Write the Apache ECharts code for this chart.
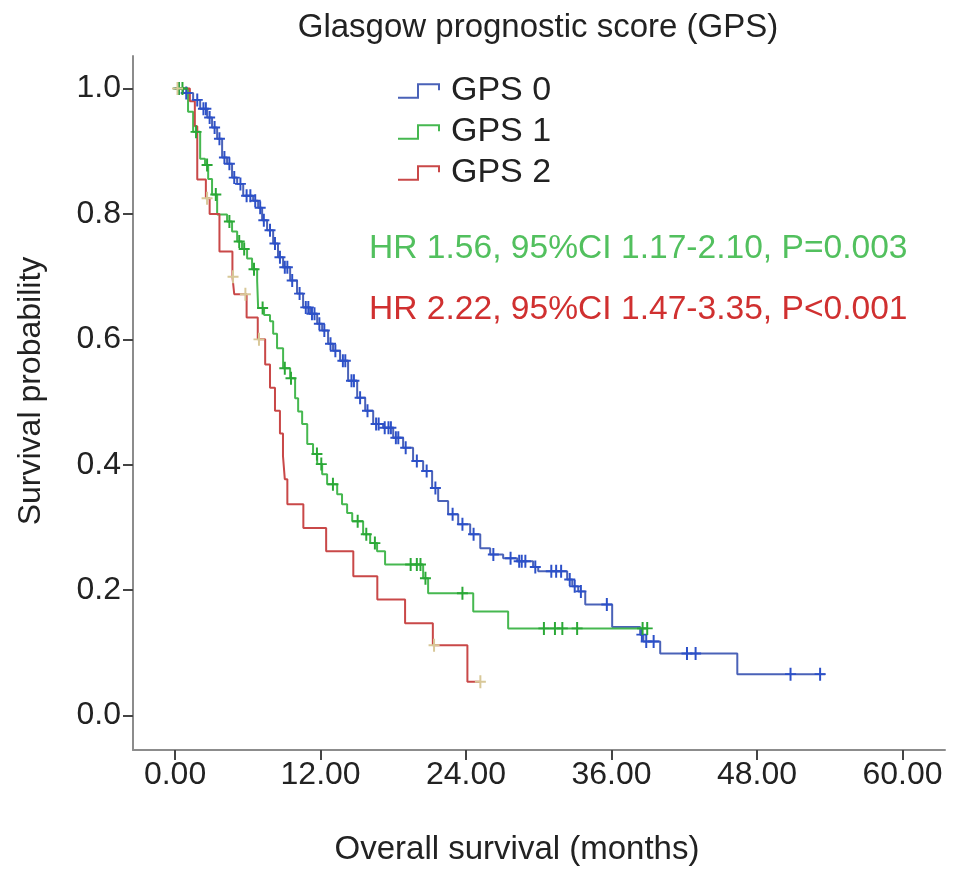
<!DOCTYPE html>
<html>
<head>
<meta charset="utf-8">
<script src="https://cdn.jsdelivr.net/npm/echarts@6/dist/echarts.min.js"></script>
<style>html,body{margin:0;padding:0;background:#fff}#chart{width:969px;height:876px}</style>
</head>
<body>
<div id="chart"></div>
<script>
// Tick labels
const xTicks = [0, 12, 24, 36, 48, 60];
const yTicks = [0, 0.2, 0.4, 0.6, 0.8, 1.0];

// GPS 0 (Kaplan-Meier steps: event time in months, survival after the event)
const gps0Time = [0,0.66,1.49,2.07,2.65,3.05,3.47,3.88,4.29,4.70,5.12,5.62,6.44,6.85,7.18,7.59,8.09,8.49,8.91,9.49,10.06,10.56,11.14,11.72,12.13,12.62,13.03,13.61,14.27,15.02,15.68,16.34,17.16,17.99,18.81,19.63,20.46,21.20,21.70,22.52,23.35,24.34,25.17,25.99,27.06,28.22,29.53,29.95,32.34,32.76,33.25,33.83,36.05,38.36,38.62,40.01,46.37,53.63];
const gps0Surv = [1,0.993,0.982,0.968,0.954,0.938,0.920,0.890,0.880,0.858,0.848,0.829,0.821,0.810,0.790,0.774,0.753,0.731,0.715,0.694,0.673,0.651,0.641,0.625,0.614,0.593,0.582,0.566,0.534,0.507,0.486,0.465,0.459,0.443,0.427,0.406,0.390,0.363,0.342,0.321,0.305,0.289,0.267,0.257,0.251,0.246,0.237,0.230,0.217,0.206,0.198,0.177,0.141,0.129,0.118,0.099,0.066,0.066];
const gps0Censor = [0.31,0.92,1.83,2.34,2.54,2.85,3.26,3.66,4.07,4.48,4.88,5.39,5.90,6.21,6.61,7.02,7.32,7.83,8.24,8.65,9.05,9.26,9.66,10.27,10.78,10.99,11.29,11.50,11.90,12.31,12.82,13.22,13.84,14.04,14.55,14.75,15.26,15.87,16.58,16.79,17.29,17.60,17.80,18.21,18.41,19.02,19.94,20.75,21.47,22.89,23.70,24.62,26.25,27.67,28.38,28.59,28.89,29.71,31.03,31.43,31.84,32.55,32.96,33.47,35.61,38.50,38.86,39.47,42.22,42.93,50.76,53.20];

// GPS 1
const gps1Time = [0,1.07,1.49,2.07,2.47,2.73,3.05,3.47,4.29,4.70,5.12,5.52,5.94,6.35,6.77,6.85,7.34,7.83,8.09,8.41,8.91,9.49,9.90,10.15,10.48,10.90,11.38,11.72,12.13,12.54,13.37,13.77,14.19,14.61,15.51,16.09,16.66,17.32,20.46,20.87,24.59,27.47,38.94];
const gps1Surv = [1,0.963,0.931,0.888,0.878,0.856,0.831,0.799,0.788,0.772,0.756,0.744,0.729,0.712,0.693,0.650,0.639,0.629,0.609,0.586,0.554,0.538,0.506,0.485,0.465,0.433,0.417,0.401,0.385,0.369,0.353,0.337,0.323,0.310,0.289,0.275,0.262,0.241,0.219,0.195,0.166,0.139,0.139];
const gps1Censor = [0.31,0.61,1.73,2.64,3.36,4.48,5.29,5.70,6.51,7.22,9.05,9.56,11.70,12.06,13.02,15.06,15.77,16.48,19.43,19.94,20.24,20.65,23.70,30.42,31.33,31.94,33.16,38.56,38.94];

// GPS 2
const gps2Time = [0,1.22,1.63,1.83,2.54,2.85,3.66,4.73,4.88,5.90,6.82,7.43,7.83,8.24,8.65,8.90,9.05,9.26,10.58,12.46,14.70,16.68,18.97,21.26,24.11,25.18];
const gps2Surv = [1,0.98,0.94,0.855,0.825,0.80,0.74,0.70,0.672,0.635,0.60,0.56,0.523,0.486,0.45,0.414,0.377,0.337,0.299,0.262,0.222,0.185,0.147,0.112,0.054,0.054];
const gps2Censor = [0.2,2.64,4.78,5.80,6.92,21.36,25.18];

const seriesNames = ['GPS 0', 'GPS 1', 'GPS 2'];
const hrTexts = ['HR 1.56, 95%CI 1.17-2.10, P=0.003', 'HR 2.22, 95%CI 1.47-3.35, P<0.001'];

const lineColors = ['#4a62b8', '#46b850', '#c94848'];
const censorColors = ['#2c50c8', '#2aa836', '#d8c898'];
const FONT = '"Liberation Sans", Arial, Helvetica, sans-serif';

function zip(t, s) { return t.map((v, i) => [v, s[i]]); }
function survAt(t, s, x) {
  let v = s[0];
  for (let i = 0; i < t.length; i++) { if (t[i] <= x) v = s[i]; else break; }
  return v;
}
function censorPts(t, s, c) { return c.map(x => [x, survAt(t, s, x)]); }

const plusPath = 'path://M4.1,0H5.9V5.1H10V6.9H5.9V12H4.1V6.9H0V5.1H4.1Z';
const stepIcon = 'path://M0,13.5H19V0H42V7H40V2H21V15.5H0Z';

const curves = [
  [gps0Time, gps0Surv, gps0Censor],
  [gps1Time, gps1Surv, gps1Censor],
  [gps2Time, gps2Surv, gps2Censor]
];

const series = [];
curves.forEach((c, i) => {
  series.push({
    name: seriesNames[i], type: 'line', step: 'end', symbol: 'none',
    data: zip(c[0], c[1]), color: lineColors[i],
    lineStyle: { width: 2, color: lineColors[i] }, z: 2 + i, silent: true
  });
});
curves.forEach((c, i) => {
  series.push({
    name: seriesNames[i] + ' censored', type: 'scatter', symbol: plusPath,
    symbolSize: [11, 13], data: censorPts(c[0], c[1], c[2]),
    itemStyle: { color: censorColors[i], opacity: 1 }, z: 6 + i, silent: true
  });
});

const chart = echarts.init(document.getElementById('chart'));
chart.setOption({
  animation: false,
  backgroundColor: '#fff',
  grid: { left: 133, right: 24, top: 56, bottom: 126, containLabel: false, outerBoundsMode: 'none' },
  xAxis: {
    type: 'value', min: -3.47, max: 63.5,
    axisLine: { show: true, onZero: false, lineStyle: { color: '#8c8c8c', width: 2 } },
    axisTick: { show: true, length: 10, customValues: xTicks, lineStyle: { color: '#444', width: 2 } },
    axisLabel: { customValues: xTicks, formatter: v => v.toFixed(2), margin: 9, fontSize: 32, color: '#222', fontFamily: FONT },
    splitLine: { show: false }
  },
  yAxis: {
    type: 'value', min: -0.055, max: 1.052,
    axisLine: { show: true, onZero: false, lineStyle: { color: '#8c8c8c', width: 2 } },
    axisTick: { show: true, length: 10, customValues: yTicks, lineStyle: { color: '#444', width: 2 } },
    axisLabel: { customValues: yTicks, formatter: v => v.toFixed(1), margin: 12, fontSize: 32, color: '#222', fontFamily: FONT },
    splitLine: { show: false }
  },
  legend: {
    orient: 'vertical', left: 393, top: 69, itemGap: 7, itemWidth: 42, itemHeight: 16,
    selectedMode: false,
    textStyle: { fontSize: 34, color: '#222', fontFamily: FONT, lineHeight: 34, padding: [0, 0, 0, 6] },
    data: seriesNames.map((n, i) => ({ name: n, icon: stepIcon, itemStyle: { color: lineColors[i], borderWidth: 0 } }))
  },
  graphic: [
    { type: 'text', x: 538, y: 28, style: { text: 'Glasgow prognostic score (GPS)', fill: '#222', font: '33px ' + FONT, textAlign: 'center', textVerticalAlign: 'middle', align: 'center', verticalAlign: 'middle' } },
    { type: 'text', x: 517, y: 850, style: { text: 'Overall survival (months)', fill: '#222', font: '33px ' + FONT, textAlign: 'center', textVerticalAlign: 'middle', align: 'center', verticalAlign: 'middle' } },
    { type: 'text', x: 31, y: 391, rotation: Math.PI / 2, style: { text: 'Survival probability', fill: '#222', font: '32px ' + FONT, textAlign: 'center', textVerticalAlign: 'middle', align: 'center', verticalAlign: 'middle' } },
    { type: 'text', x: 369, y: 249, style: { text: hrTexts[0], fill: '#52c05e', font: '33.6px ' + FONT, textAlign: 'left', textVerticalAlign: 'middle', align: 'left', verticalAlign: 'middle' } },
    { type: 'text', x: 369, y: 310, style: { text: hrTexts[1], fill: '#d03030', font: '33.6px ' + FONT, textAlign: 'left', textVerticalAlign: 'middle', align: 'left', verticalAlign: 'middle' } }
  ],
  series: series
});
</script>
</body>
</html>
